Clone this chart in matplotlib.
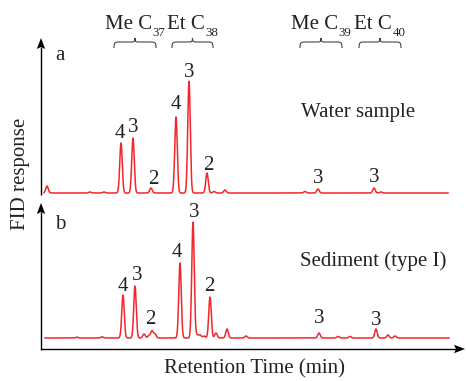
import numpy as np
import matplotlib
matplotlib.use("Agg")
import matplotlib.pyplot as plt
from matplotlib.path import Path
from matplotlib.patches import PathPatch, Polygon

plt.rcParams['font.family'] = ['Liberation Serif', 'DejaVu Serif']

# ---------------- data (retention time in arbitrary units, response in arbitrary units) -------------
rt_a = [47, 90, 104, 121, 133, 151, 176, 189, 207, 214, 225, 305, 318, 374, 381]
h_a = [7, 1, 1, 50, 55, 5, 76, 112, 20, 1.5, 3, 1.5, 4, 5, 1]

rt_b = [77, 102, 123, 135, 144, 149, 152, 155, 180, 193, 197, 200, 204, 210, 216, 227,
        246, 319, 338, 350, 376, 388, 395]
h_b = [0.8, 1.2, 43, 52, 4, 2.5, 7, 4, 75, 116, 3, 3, 2, 41, 5, 9,
       2, 5, 1.5, 1.5, 9, 3, 2]

# peak labels: (retention time of labelled peak, label)
labels_a = [(121, '4'), (133, '3'), (151, '2'), (176, '4'), (189, '3'), (207, '2'), (318, '3'), (374, '3')]
labels_b = [(123, '4'), (135, '3'), (152, '2'), (180, '4'), (193, '3'), (210, '2'), (319, '3'), (376, '3')]

groups = [('Me C', '37'), ('Et C', '38'), ('Me C', '39'), ('Et C', '40')]
group_spans = [(114, 156), (172, 213), (300, 342), (359, 401)]

sample_a = 'Water sample'
sample_b = 'Sediment (type I)'
xlabel = 'Retention Time (min)'
ylabel = 'FID response'

# ---------------- styling / layout -----------------
W, H = 466, 381
fig = plt.figure(figsize=(W / 100, H / 100), dpi=100)
RED = '#f2262c'
TXT = '#222222'
FS = 15

def frac_axes(left, top, right, bottom):
    return fig.add_axes([left / W, 1 - bottom / H, (right - left) / W, (bottom - top) / H])

ax_a = frac_axes(41, 40, 463, 195)
ax_b = frac_axes(41, 205, 463, 349)
ax_a.set_xlim(41, 463); ax_a.set_ylim(0, 155)
ax_b.set_xlim(41, 463); ax_b.set_ylim(0, 144)
for ax in (ax_a, ax_b):
    ax.axis('off')

def trace(x, rts, hs, base, sig=1.25):
    y = np.full_like(x, base, dtype=float)
    for r, h in zip(rts, hs):
        y += h * np.exp(-(x - r) ** 2 / (2 * sig ** 2))
    return y

xa = np.linspace(44, 448, 2000)
ya = trace(xa, rt_a, h_a, 2)
xb = np.linspace(45, 449, 2000)
yb = trace(xb, rt_b, h_b, 11)
ax_a.plot(xa, ya, color=RED, lw=1.1)
ax_b.plot(xb, yb, color=RED, lw=1.1)

# label offsets in pixels (dx, baseline height above peak top)
off_a = [(-1, 5), (0, 6), (2, 4.5), (0, 8.5), (0, 4.5), (1, 3.5), (0, 6.5), (0, 6.5)]
off_b = [(0, 4.5), (2, 6.5), (-2, 6.5), (-3, 6.5), (1, 5.5), (-1, 6.5), (0, 10.5), (0, 4.5)]

def put_labels(ax, x, y, labels, offs):
    for (r, t), (dx, dy) in zip(labels, offs):
        m = (x > r - 2) & (x < r + 2)
        top = y[m].max()
        ax.annotate(t, xy=(r, top), xycoords='data', xytext=(dx, dy), textcoords='offset pixels',
                    ha='center', va='baseline', fontsize=FS, color=TXT)

put_labels(ax_a, xa, ya, labels_a, off_a)
put_labels(ax_b, xb, yb, labels_b, off_b)

# overlay in pixel coordinates for axes arrows, braces and text
ov = fig.add_axes([0, 0, 1, 1], zorder=5)
ov.set_xlim(0, W); ov.set_ylim(H, 0); ov.axis('off')
ov.patch.set_alpha(0)

def arrow(x0, y0, x1, y1, hl=11, hw=4.2, notch=2.0):
    d = np.array([x1 - x0, y1 - y0], float); d /= np.hypot(*d)
    n = np.array([-d[1], d[0]])
    tip = np.array([x1, y1]); base = tip - d * hl
    end = tip - d * (hl - notch)
    ov.plot([x0, end[0]], [y0, end[1]], color='black', lw=1.0, solid_capstyle='butt')
    ov.add_patch(Polygon([tip, base + n * hw, end, base - n * hw], closed=True,
                         color='black', lw=0))

arrow(41, 195, 41, 38)
arrow(41, 349.5, 41, 203)
arrow(40.5, 349, 465, 349)

def brace(x0, x1, ytip=38, ymid=42, yend=48, color='#444444'):
    xm = (x0 + x1) / 2
    r = 6
    c = 3
    verts = [(x0, yend), (x0, ymid), (x0 + 1, ymid), (x0 + r, ymid),
             (xm - c, ymid), (xm - 0.5, ymid), (xm, ymid - 1), (xm, ytip),
             (xm, ymid - 1), (xm + 0.5, ymid), (xm + c, ymid),
             (x1 - r, ymid), (x1 - 1, ymid), (x1, ymid), (x1, yend)]
    codes = [Path.MOVETO, Path.CURVE4, Path.CURVE4, Path.CURVE4,
             Path.LINETO, Path.CURVE4, Path.CURVE4, Path.CURVE4,
             Path.CURVE4, Path.CURVE4, Path.CURVE4,
             Path.LINETO, Path.CURVE4, Path.CURVE4, Path.CURVE4]
    ov.add_patch(PathPatch(Path(verts, codes), fill=False, lw=0.8, edgecolor=color))

fig.canvas.draw()
renderer = fig.canvas.get_renderer()
for (x0, x1), (main, sub) in zip(group_spans, groups):
    brace(x0, x1)
    t1 = ov.text(0, 29, main, ha='left', va='baseline', fontsize=FS, color=TXT)
    t2 = ov.text(0, 36.5, sub, ha='left', va='baseline', fontsize=FS * 0.62, color=TXT)
    w1 = t1.get_window_extent(renderer).width
    w2 = t2.get_window_extent(renderer).width
    start = (x0 + x1) / 2 - (w1 + w2 + 0.5) / 2
    t1.set_x(start)
    t2.set_x(start + w1 + 0.5)

ov.text(55, 60, 'a', ha='left', va='baseline', fontsize=FS, color=TXT)
ov.text(55, 229, 'b', ha='left', va='baseline', fontsize=FS, color=TXT)
ov.text(301, 117, sample_a, ha='left', va='baseline', fontsize=FS, color=TXT)
ov.text(300, 266, sample_b, ha='left', va='baseline', fontsize=FS, color=TXT)
ov.text(255, 373, xlabel, ha='center', va='baseline', fontsize=FS, color=TXT)
ov.text(25, 174, ylabel, ha='center', va='baseline', rotation=90, rotation_mode='anchor',
        fontsize=FS, color=TXT)

fig.savefig('out.png', dpi=100)
